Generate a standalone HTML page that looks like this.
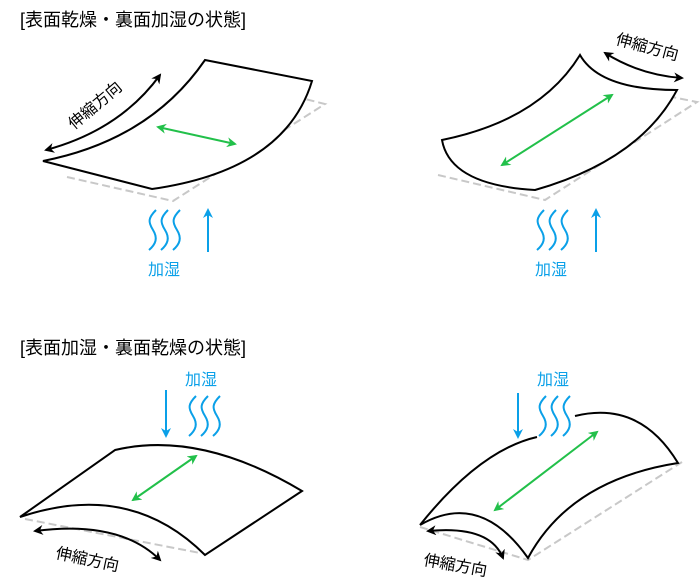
<!DOCTYPE html>
<html><head><meta charset="utf-8"><style>
html,body{margin:0;padding:0;background:#fff;}
svg{display:block;}
text{font-family:"Liberation Sans","Noto Sans CJK JP",sans-serif;}
</style></head><body>
<svg width="700" height="585" viewBox="0 0 700 585" xmlns="http://www.w3.org/2000/svg">
<defs>
<marker id="ak" viewBox="0 0 10 10" refX="8" refY="5" markerWidth="5" markerHeight="5" orient="auto-start-reverse"><path d="M0,0 L10,5 L0,10 L3,5z" fill="#000"/></marker>
<marker id="ag" viewBox="0 0 10 10" refX="8" refY="5" markerWidth="5" markerHeight="5" orient="auto-start-reverse"><path d="M0,0 L10,5 L0,10 L3,5z" fill="#22c04a"/></marker>
<marker id="ab" viewBox="0 0 10 10" refX="8" refY="5" markerWidth="5" markerHeight="6" orient="auto"><path d="M0,0 L10,5 L0,10 L3,5z" fill="#0aa0e8"/></marker>
<g id="wave" fill="none" stroke="#0aa0e8" stroke-width="2">
<path d="M8,0 C0,8 0,12 5,20 C10,28 8,34 1,40"/>
<path d="M20,0 C12,8 12,12 17,20 C22,28 20,34 13,40"/>
<path d="M32,0 C24,8 24,12 29,20 C34,28 32,34 25,40"/>
</g>
</defs>
<text x="20" y="26" font-size="18" fill="#000">[表面乾燥・裏面加湿の状態]</text>
<text x="20" y="354" font-size="18" fill="#000">[表面加湿・裏面乾燥の状態]</text>

<!-- Panel 1 -->
<polyline points="67,177 173,201 325,104 305,99" fill="none" stroke="#c8c8c8" stroke-width="2" stroke-dasharray="8,4"/>
<path d="M43,161 Q150,140 205,60 L312,81 Q285,170 152,189 Z" fill="#fff" stroke="#000" stroke-width="2"/>
<path d="M46,150 Q120,130 160,75" fill="none" stroke="#000" stroke-width="2" marker-start="url(#ak)" marker-end="url(#ak)"/>
<text transform="translate(74,130) rotate(-40)" font-size="16">伸縮方向</text>
<line x1="158" y1="127" x2="235" y2="144" stroke="#22c04a" stroke-width="2" marker-start="url(#ag)" marker-end="url(#ag)"/>
<use href="#wave" x="148" y="210"/>
<line x1="208" y1="252" x2="208" y2="210" stroke="#0aa0e8" stroke-width="2" marker-end="url(#ab)"/>
<text x="148" y="275" font-size="16" fill="#0aa0e8">加湿</text>

<!-- Panel 2 -->
<polyline points="438,175 545,200 697,102 672,97" fill="none" stroke="#c8c8c8" stroke-width="2" stroke-dasharray="8,4"/>
<path d="M442,140 Q540,120 580,55 Q600,90 677,90 Q640,160 535,190 Q450,185 442,140 Z" fill="#fff" stroke="#000" stroke-width="2"/>
<path d="M605,53 Q640,75 682,78" fill="none" stroke="#000" stroke-width="2" marker-start="url(#ak)" marker-end="url(#ak)"/>
<text transform="translate(615,44) rotate(15)" font-size="16">伸縮方向</text>
<line x1="502" y1="165" x2="612" y2="95" stroke="#22c04a" stroke-width="2" marker-start="url(#ag)" marker-end="url(#ag)"/>
<use href="#wave" x="536" y="210"/>
<line x1="596" y1="252" x2="596" y2="210" stroke="#0aa0e8" stroke-width="2" marker-end="url(#ab)"/>
<text x="535" y="275" font-size="16" fill="#0aa0e8">加湿</text>

<!-- Panel 3 -->
<polyline points="25,519 200,553" fill="none" stroke="#c8c8c8" stroke-width="2" stroke-dasharray="8,4"/>
<path d="M20,517 L115,450 Q200,430 302,491 L205,555 Q130,480 20,517 Z" fill="#fff" stroke="#000" stroke-width="2"/>
<path d="M35,531 Q120,520 160,560" fill="none" stroke="#000" stroke-width="2" marker-start="url(#ak)" marker-end="url(#ak)"/>
<text transform="translate(55,558) rotate(12)" font-size="16">伸縮方向</text>
<line x1="133" y1="500" x2="196" y2="456" stroke="#22c04a" stroke-width="2" marker-start="url(#ag)" marker-end="url(#ag)"/>
<line x1="166" y1="390" x2="166" y2="436" stroke="#0aa0e8" stroke-width="2" marker-end="url(#ab)"/>
<use href="#wave" x="188" y="396"/>
<text x="185" y="385" font-size="16" fill="#0aa0e8">加湿</text>

<!-- Panel 4 -->
<polyline points="420,527 528,560 682,462" fill="none" stroke="#c8c8c8" stroke-width="2" stroke-dasharray="8,4"/>
<path d="M420,525 Q480,450 537,437 M575,416 Q640,400 678,463 Q570,480 528,558 Q480,490 420,525" fill="#fff" stroke="#000" stroke-width="2"/>
<path d="M428,531 Q490,525 503,558" fill="none" stroke="#000" stroke-width="2" marker-start="url(#ak)" marker-end="url(#ak)"/>
<text transform="translate(423,565) rotate(10)" font-size="16">伸縮方向</text>
<line x1="495" y1="510" x2="597" y2="432" stroke="#22c04a" stroke-width="2" marker-start="url(#ag)" marker-end="url(#ag)"/>
<line x1="518" y1="393" x2="518" y2="437" stroke="#0aa0e8" stroke-width="2" marker-end="url(#ab)"/>
<use href="#wave" x="538" y="396"/>
<text x="537" y="385" font-size="16" fill="#0aa0e8">加湿</text>
</svg>
</body></html>
